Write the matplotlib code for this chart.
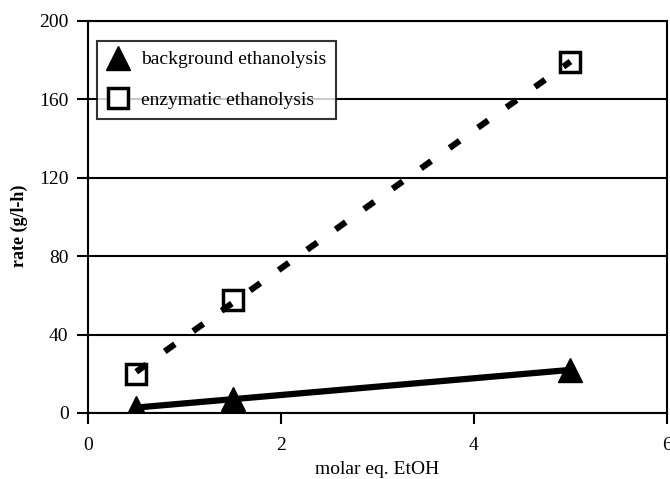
import numpy as np
import matplotlib.pyplot as plt

plt.rcParams['font.family'] = ['Liberation Serif', 'DejaVu Serif']

# data
molar_eq = [0.5, 1.5, 5.0]
rate_background = [2.8, 7.0, 22.0]
rate_enzymatic = [20.0, 57.5, 179.0]

fig = plt.figure(figsize=(6.7, 4.79), dpi=100)
ax = fig.add_axes([0.1313, 0.1378, 0.8642, 0.8184])

# linear trend lines
xs = np.array([min(molar_eq), max(molar_eq)])
pb = np.polyfit(molar_eq, rate_background, 1)
pe = np.polyfit(molar_eq, rate_enzymatic, 1)

ax.plot(molar_eq, rate_background, linestyle='none', marker='^', markersize=17,
        color='black', label='background ethanolysis', zorder=3)
ax.plot(molar_eq, rate_enzymatic, linestyle='none', marker='s', markersize=14,
        markerfacecolor='white', markeredgecolor='black', markeredgewidth=2.5,
        label='enzymatic ethanolysis', zorder=3)
ax.plot(xs, np.polyval(pb, xs), color='black', linewidth=4.5, solid_capstyle='butt', zorder=4)
ax.plot(xs, np.polyval(pe, xs), color='black', linewidth=4.5, linestyle=(0, (2.0, 3.6)),
        dash_capstyle='butt', zorder=4)

ax.set_xlim(0, 6)
ax.set_ylim(0, 200)
ax.set_xticks([0, 2, 4, 6])
ax.set_yticks([0, 40, 80, 120, 160, 200])
ax.yaxis.grid(True, color='black', linewidth=1.5)
ax.set_axisbelow(True)
for s in ax.spines.values():
    s.set_linewidth(1.5)
ax.tick_params(axis='both', direction='out', length=8, width=1.5, labelsize=14)
ax.tick_params(axis='y', pad=6)
ax.tick_params(axis='x', pad=9)

ax.set_xlabel('molar eq. EtOH', fontsize=14, labelpad=5)
ax.set_ylabel('rate (g/l-h)', fontsize=13, fontweight='bold')
ax.yaxis.set_label_coords(-0.104, 0.477)

leg = ax.legend(loc='upper left', bbox_to_anchor=(0.0155, 0.949), fontsize=14,
                frameon=True, fancybox=False, edgecolor='black', borderpad=0.5,
                labelspacing=1.2, handletextpad=0.55, handlelength=1.2, borderaxespad=0)
leg.get_frame().set_linewidth(1.5)

fig.savefig('out.png', dpi=100)
